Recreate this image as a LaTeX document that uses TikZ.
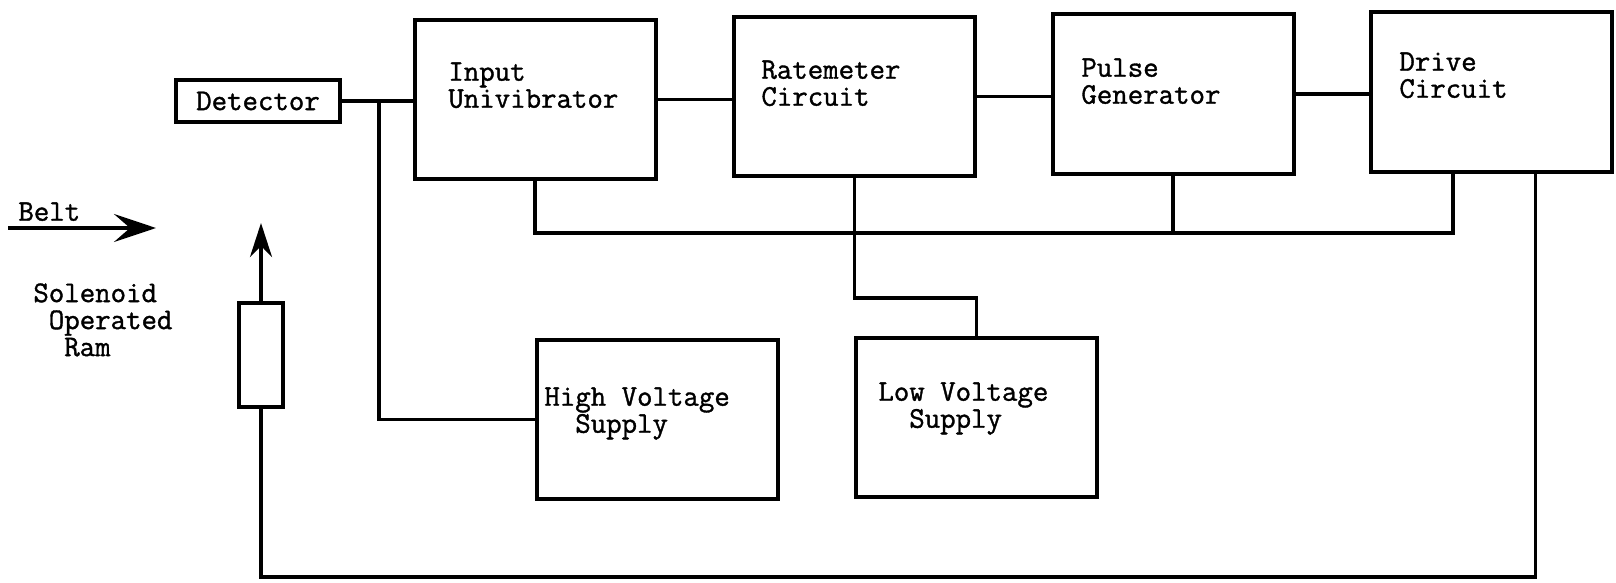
\documentclass[tikz,border=0pt]{standalone}
\usepackage{fontspec}
\setmonofont{Latin Modern Mono}[FakeBold=1.2]
\usetikzlibrary{arrows.meta,calc}

\tikzset{
  blk/.style={draw, line width=2pt, inner sep=0pt, minimum width=120.5pt, minimum height=79.5pt},
  txt/.style={anchor=north west, inner sep=0pt, align=left},
  wire/.style={line width=1.8pt},
}

\begin{document}
\begin{tikzpicture}[x=0.5pt, y=-0.5pt, font=\ttfamily\fontsize{15}{13.5}\selectfont]
  \useasboundingbox (0,0) rectangle (1616,583);
  % blocks along the top
  \node[blk, line width=2.3pt, minimum width=82pt, minimum height=21pt] (det) at (258,101) {Detector};
  \node[blk] (inp) at (535,99.5) {};
  \node[blk] (rate) at (854.5,96.5) {};
  \node[blk] (pulse) at (1173,94) {};
  \node[blk] (drive) at (1491.5,92) {};
  % supplies
  \node[blk] (hv) at (657.5,419.5) {};
  \node[blk] (lv) at (976.5,417.5) {};
  % the ram
  \node[blk, minimum width=22pt, minimum height=52pt] (ram) at (261,355) {};

  % block texts
  \node[txt] (inpT) at (448,62) {Input\\Univibrator};
  \node[txt] (rateT) at (761,60) {Ratemeter\\Circuit};
  \node[txt] (pulseT) at (1081,58) {Pulse\\Generator};
  \node[txt] (driveT) at (1399,52) {Drive\\Circuit};
  \node[txt] (hvT) at (544,387) {High Voltage\\\phantom{Hi}Supply};
  \node[txt] (lvT) at (878,382) {Low Voltage\\\phantom{Lo}Supply};
  \node[txt] (beltT) at (18,202) {Belt};
  \node[txt] (ramT) at (33,283) {Solenoid\\\phantom{S}Operated\\\phantom{So}Ram};

  % free ends and bends
  \coordinate (tap) at (379,101);
  \coordinate (bus) at (0,233);
  \coordinate (lvk) at (0,298);
  \coordinate (ret) at (261,577);
  \coordinate (drvA) at ($(drive.south west)!0.344!(drive.south east)$);
  \coordinate (drvB) at ($(drive.south west)!0.68!(drive.south east)$);
  \coordinate (ramtip) at (261,223);
  \coordinate (beltA) at (8,228);
  \coordinate (beltB) at (156,228);

  % signal chain
  \draw[wire] (det.east) -- (det.east -| inp.west);
  \draw[wire] (inp.east) -- (inp.east -| rate.west);
  \draw[wire] (rate.east) -- (rate.east -| pulse.west);
  \draw[wire] (pulse.east) -- (pulse.east -| drive.west);
  % supply lines
  \draw[wire] (tap) |- (hv.west);
  \draw[wire] (rate.south) |- (lvk -| lv.north) -- (lv.north);
  \draw[wire] (inp.south) -- (inp.south |- bus) -| (drvA);
  \draw[wire] (pulse.south) -- (pulse.south |- bus);
  % back to the ram
  \draw[wire] (drvB) |- (ret) -- (ram.south);
  \draw[wire, -{Stealth[length=17pt, width=11pt]}] (ram.north) -- (ramtip);
  \draw[wire, -{Stealth[length=21pt, width=14pt, inset=8pt]}] (beltA) -- (beltB);
\end{tikzpicture}
\end{document}
